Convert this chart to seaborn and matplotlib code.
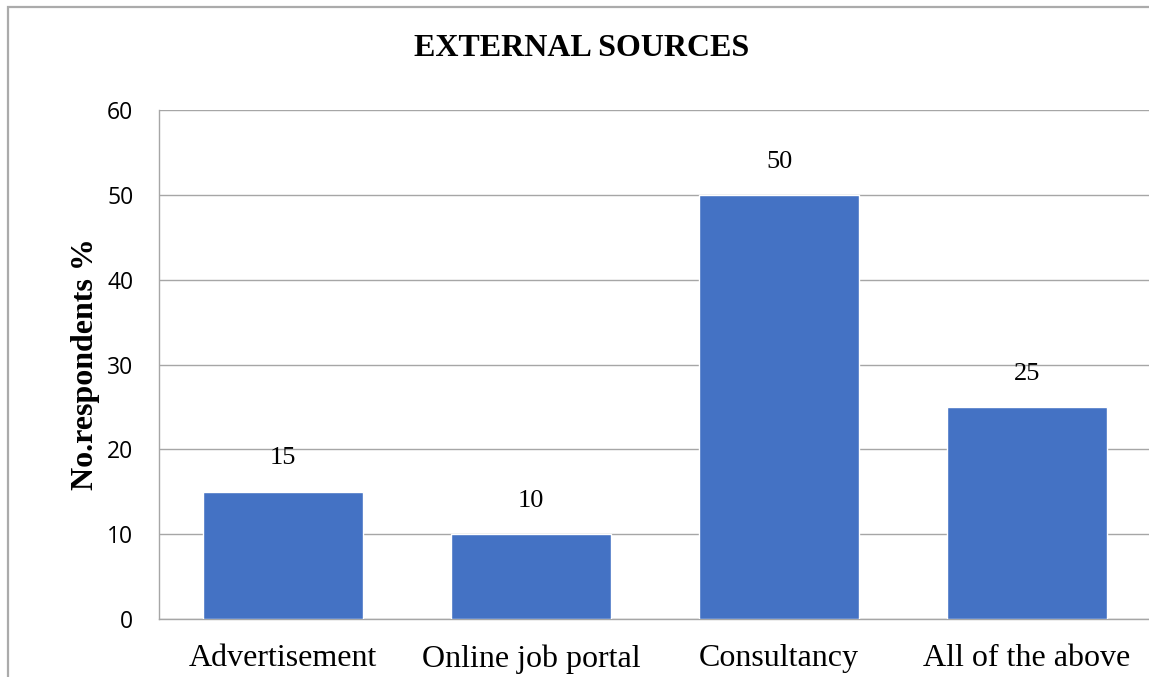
import matplotlib
matplotlib.use("Agg")
import matplotlib.pyplot as plt
import matplotlib.patches as mpatches
import seaborn as sns
import pandas as pd

# Survey data: share of respondents per external recruitment source
sources = ["Advertisement", "Online job portal", "Consultancy", "All of the above"]
respondents_pct = [15, 10, 50, 25]
y_ticks = [0, 10, 20, 30, 40, 50, 60]

df = pd.DataFrame({"source": sources, "pct": respondents_pct})

sns.set_theme(style="white")
plt.rcParams["font.family"] = ["Liberation Serif", "DejaVu Serif"]

W, H = 1149, 677
fig = plt.figure(figsize=(W / 100, H / 100), dpi=100)
fig.patch.set_facecolor("white")

# Axes placed in pixel terms of the canvas
left, right, top, bottom = 159, 1151, 110, 619
ax = fig.add_axes([left / W, 1 - bottom / H, (right - left) / W, (bottom - top) / H])

sns.barplot(data=df, x="source", y="pct", color="#4472C4", width=0.645,
            saturation=1, ax=ax, zorder=3)

ax.set_ylim(0, 60)
ax.set_xlim(-0.5, 3.5)
ax.set_yticks(y_ticks)
ax.yaxis.grid(True, color="#A6A6A6", linewidth=1.0, zorder=0)
ax.xaxis.grid(False)

for side in ["top", "right"]:
    ax.spines[side].set_visible(False)
ax.spines["left"].set_color("#A6A6A6")
ax.spines["left"].set_linewidth(1.0)
ax.spines["bottom"].set_color("#A6A6A6")
ax.spines["bottom"].set_linewidth(1.0)

ax.tick_params(axis="y", length=0, pad=18.5)
ax.tick_params(axis="x", length=0, pad=18)
for lab in ax.get_yticklabels():
    lab.set_fontfamily(["Open Sans", "DejaVu Sans"])
    lab.set_fontsize(16.5)
    lab.set_color("black")
for lab in ax.get_xticklabels():
    lab.set_fontfamily(["Liberation Serif", "DejaVu Serif"])
    lab.set_fontsize(23)
    lab.set_color("black")

ax.set_xlabel("")
ax.set_ylabel("No.respondents %", fontsize=23, fontweight="bold", color="black",
              va="center")
ax.yaxis.set_label_coords((85 - left) / (right - left), 0.5)

# Value labels above each bar
for i, v in enumerate(respondents_pct):
    ax.annotate(f"{v}", xy=(i, v), xytext=(0, 24), textcoords="offset points",
                ha="center", va="center", fontsize=19, color="black",
                fontfamily=["Liberation Serif", "DejaVu Serif"])

fig.text(582 / W, 1 - 48 / H, "EXTERNAL SOURCES", ha="center", va="center",
         fontsize=23, fontweight="bold", color="black",
         fontfamily=["Liberation Serif", "DejaVu Serif"])

# Chart-area frame running off the right and bottom edges
frame = mpatches.Rectangle((8 / W, -0.2), 2.0, 1 - 7 / H + 0.2,
                           transform=fig.transFigure, fill=False,
                           edgecolor="#ABABAB", linewidth=1.6, zorder=-1)
fig.patches.append(frame)

fig.savefig("out.png", dpi=100)
